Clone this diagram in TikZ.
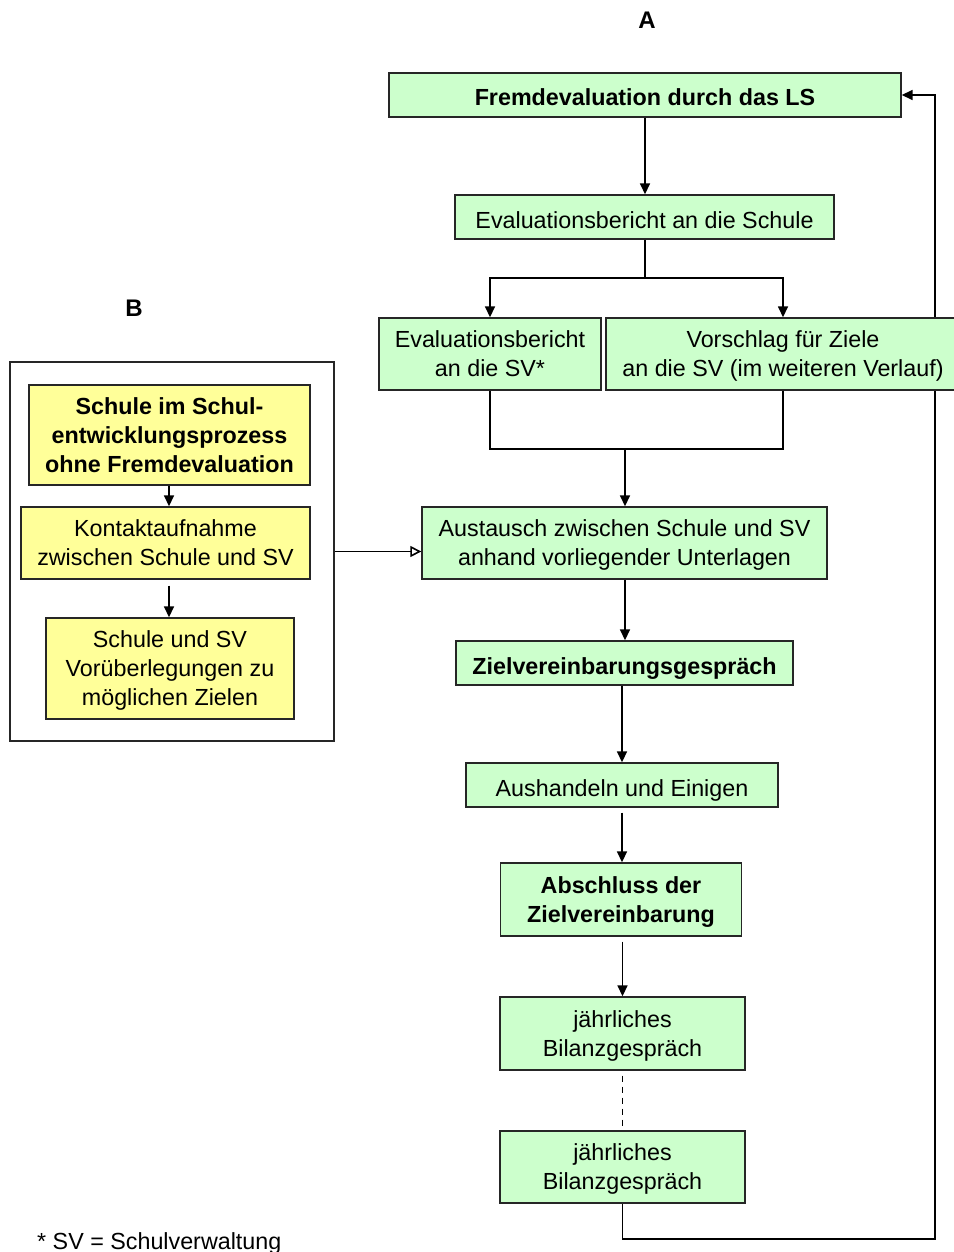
\documentclass[tikz,border=0pt]{standalone}
\usepackage{fontspec}
\setmainfont{Liberation Sans}
\usetikzlibrary{arrows.meta}
\pgfdeclarelayer{bg}
\pgfsetlayers{bg,main}
\definecolor{gfill}{HTML}{CCFFCC}
\definecolor{yfill}{HTML}{FFFF99}
\begin{document}
\begin{tikzpicture}[x=1pt,y=-1pt,
  box/.style={draw=black!85, line width=1.4pt, rectangle, inner sep=0pt, align=center,
    font=\fontsize{23.3}{29}\selectfont, text depth=0pt,
    execute at begin node={\rule{0pt}{22pt}}},
  gbox/.style={box, fill=gfill},
  ybox/.style={box, fill=yfill},
  bold/.style={font=\bfseries\fontsize{23.3}{29}\selectfont},
  conn/.style={line width=1.6pt, black},
  arr/.style={conn, -{Triangle[length=11pt,width=10pt]}},
  openarr/.style={conn, -{Triangle[open,length=11pt,width=11pt]}},
  lbl/.style={font=\bfseries\fontsize{24}{28}\selectfont}]
\useasboundingbox (0,0) rectangle (953,1252);

% labels
\node[lbl] (lA) at (647,20) {A};
\node[lbl] (lB) at (134,308) {B};

% right column
\node[gbox, bold, minimum width=512pt, minimum height=44pt] (fe) at (645,95) {Fremdevaluation durch das LS};
\node[gbox, minimum width=379pt, minimum height=44pt] (ber) at (644.5,217) {Evaluationsbericht an die Schule};
\node[gbox, minimum width=222pt, minimum height=72pt] (sv) at (490,354) {Evaluationsbericht\\an die SV*};
\node[gbox, minimum width=354pt, minimum height=72pt] (vz) at (783,354) {Vorschlag für Ziele\\an die SV (im weiteren Verlauf)};
\node[gbox, minimum width=405pt, minimum height=72pt] (aus) at (624.5,543) {Austausch zwischen Schule und SV\\anhand vorliegender Unterlagen};
\node[gbox, bold, minimum width=337pt, minimum height=44pt] (ziel) at (624.5,663) {Zielvereinbarungsgespräch};
\node[gbox, minimum width=312pt, minimum height=44pt] (aush) at (622,785) {Aushandeln und Einigen};
\node[gbox, bold, minimum width=241pt, minimum height=73pt] (absch) at (621,899.5) {Abschluss der\\Zielvereinbarung};
\node[gbox, minimum width=245pt, minimum height=73pt] (bil1) at (622.5,1033.5) {jährliches\\Bilanzgespräch};
\node[gbox, minimum width=245pt, minimum height=72pt] (bil2) at (622.5,1167) {jährliches\\Bilanzgespräch};

% left group
\node[draw=black!85, line width=1.4pt, minimum width=324pt, minimum height=379pt, inner sep=0pt] (outer) at (172,551.5) {};
\node[ybox, bold, minimum width=281pt, minimum height=100pt] (y1) at (169.5,435) {Schule im Schul-\\entwicklungsprozess\\ohne Fremdevaluation};
\node[ybox, minimum width=289pt, minimum height=72pt] (y2) at (165.5,543) {Kontaktaufnahme\\zwischen Schule und SV};
\node[ybox, minimum width=248pt, minimum height=101pt] (y3) at (170,668.5) {Schule und SV\\Vorüberlegungen zu\\möglichen Zielen};

% connectors
\coordinate (j1) at (645,278);
\coordinate (j2) at (625,449);
\coordinate (fb) at (935,1239);
\draw[arr] (fe.south) -- (fe.south |- ber.north);
\draw[conn] (ber.south -| j1) -- (j1);
\draw[arr] (j1) -| (sv.north);
\draw[arr] (j1) -| (vz.north);
\draw[conn] (sv.south) |- (j2);
\draw[conn] (vz.south) |- (j2);
\draw[arr] (j2) -- (j2 |- aus.north);
\draw[arr] (aus.south -| j2) -- (j2 |- ziel.north);
\draw[arr] (ziel.south -| aush.north) -- (aush.north);
\draw[arr, shorten <=5pt] (aush.south) -- (aush.south |- absch.north);
\draw[arr, shorten <=5pt] (absch.south -| bil1.north) -- (bil1.north);
\draw[conn, dashed, dash pattern=on 6pt off 5pt, shorten <=5pt] (bil1.south) -- (bil2.north);
\begin{pgfonlayer}{bg}
\draw[arr] (bil2.south) |- (fb) |- (fe.east);
\end{pgfonlayer}

\draw[arr] (y1.south -| 169,0) -- (169,0 |- y2.north);
\draw[arr, shorten <=6pt] (y2.south -| 169,0) -- (169,0 |- y3.north);
\draw[openarr] (outer.east) -- (outer.east -| aus.west);

% footnote
\node[anchor=base west, inner sep=0pt, font=\fontsize{23.3}{27}\selectfont] (fn) at (37,1249) {* SV = Schulverwaltung};
\end{tikzpicture}
\end{document}
